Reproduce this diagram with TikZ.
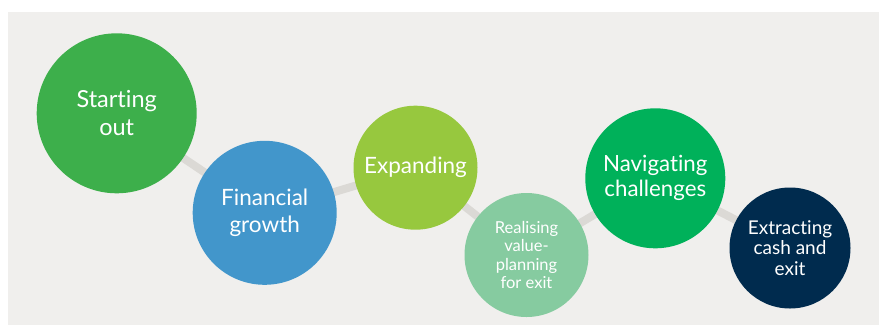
\documentclass[tikz,border=0pt]{standalone}
\usepackage{fontspec}
\setmainfont{Lato}[Ligatures=NoCommon]
\definecolor{bgGrey}{RGB}{240,239,237}
\definecolor{linkGrey}{RGB}{219,217,213}
\definecolor{startGreen}{RGB}{61,175,75}
\definecolor{growthBlue}{RGB}{66,150,203}
\definecolor{expandLime}{RGB}{151,200,62}
\definecolor{valueMint}{RGB}{134,203,160}
\definecolor{navGreen}{RGB}{0,177,90}
\definecolor{exitNavy}{RGB}{0,43,78}
\pgfdeclarelayer{back}
\pgfdeclarelayer{links}
\pgfsetlayers{back,links,main}
\tikzset{
  stage/.style={circle, inner sep=0pt, align=center, text=white},
  link/.style={color=linkGrey, line width=8pt}
}
\begin{document}
\begin{tikzpicture}[x=1pt, y=-1pt]
\useasboundingbox (0,0) rectangle (879,325);
\begin{pgfonlayer}{back}
\fill [bgGrey] (8,12) rectangle (879,325);
\end{pgfonlayer}
\node (start) at (116.7,113.3) [stage, fill=startGreen, minimum size=160pt, font=\fontsize{23.5}{28}\selectfont] {Starting\\out};
\node (growth) at (264.7,212.8) [stage, fill=growthBlue, minimum size=144pt, font=\fontsize{22.5}{27}\selectfont] {Financial\\growth};
\node (expand) at (415.5,167.7) [stage, fill=expandLime, minimum size=124pt, font=\fontsize{22.5}{27}\selectfont] {Expanding};
\node (value) at (526.5,255) [stage, fill=valueMint, minimum size=124pt, font=\fontsize{16.5}{18.5}\selectfont] {Realising\\value-\\planning\\for exit};
\node (navigate) at (655.3,178.3) [stage, fill=navGreen, minimum size=140pt, font=\fontsize{22.3}{25}\selectfont] {Navigating\\challenges};
\node (extract) at (790,248) [stage, fill=exitNavy, minimum size=121pt, font=\fontsize{19}{20.5}\selectfont] {Extracting\\cash and\\exit};
\begin{pgfonlayer}{links}
\draw [link] (start.center) -- (growth.center) -- (expand.center) -- (value.center) -- (navigate.center) -- (extract.center);
\end{pgfonlayer}
\end{tikzpicture}
\end{document}
